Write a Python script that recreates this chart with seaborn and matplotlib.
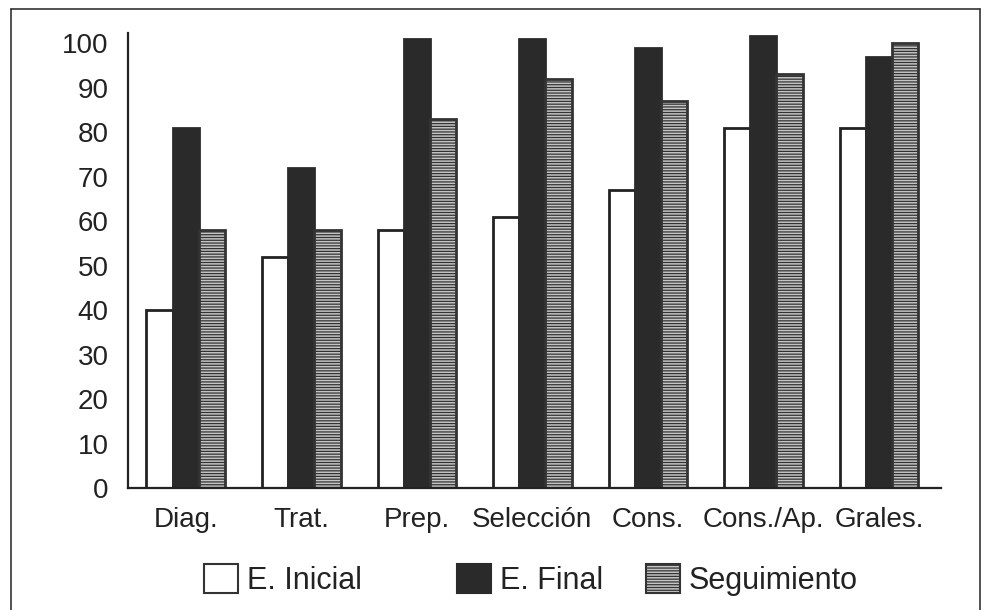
import numpy as np
import pandas as pd
import matplotlib
matplotlib.use("Agg")
import matplotlib.pyplot as plt
from matplotlib.lines import Line2D
from matplotlib.patches import Patch
import seaborn as sns

# ========== datos ==========
categorias = ["Diag.", "Trat.", "Prep.", "Selección", "Cons.", "Cons./Ap.", "Grales."]
series = ["E. Inicial", "E. Final", "Seguimiento"]
e_inicial = [40, 52, 58, 61, 67, 81, 81]
e_final = [81, 72, 101, 101, 99, 101.5, 97]
seguimiento = [58, 58, 83, 92, 87, 93, 100]
y_ticks = list(range(0, 101, 10))

df = pd.DataFrame({
    "cat": categorias * 3,
    "serie": [series[0]] * 7 + [series[1]] * 7 + [series[2]] * 7,
    "valor": e_inicial + e_final + seguimiento,
})

# ========== estilo ==========
sns.set_style("white")
plt.rcParams["font.family"] = ["Liberation Sans", "DejaVu Sans"]
plt.rcParams["hatch.linewidth"] = 0.9

colores = {"E. Inicial": "#ffffff", "E. Final": "#2a2a2a", "Seguimiento": "#c4c4c4"}

fig = plt.figure(figsize=(9.87, 6.10), dpi=100)
ax = fig.add_axes([0.1297, 0.2, 0.824, 0.746])

sns.barplot(data=df, x="cat", y="valor", hue="serie", palette=colores,
            width=0.68, gap=0, edgecolor="#222222", linewidth=2,
            legend=False, ax=ax)

# rayado horizontal para "Seguimiento"
for bar in ax.containers[2]:
    bar.set_hatch("------")
    bar.set_edgecolor("#333333")
for bar in ax.containers[1]:
    bar.set_edgecolor("#2a2a2a")

ax.set_xlim(-0.5, 6.54)
ax.set_ylim(0, 102.3)
ax.set_yticks(y_ticks)
ax.set_xlabel("")
ax.set_ylabel("")
ax.tick_params(axis="both", length=0, labelsize=20, colors="#222222")
ax.tick_params(axis="y", pad=14)
ax.tick_params(axis="x", pad=14)
sns.despine(ax=ax, top=True, right=True)
for s in ["left", "bottom"]:
    ax.spines[s].set_linewidth(1.6)
    ax.spines[s].set_color("#222222")

# leyenda: una entrada por serie, colocadas como en el original
handles = [
    Patch(facecolor=colores["E. Inicial"], edgecolor="#333333", linewidth=1.5, label="E. Inicial"),
    Patch(facecolor=colores["E. Final"], edgecolor="#2a2a2a", linewidth=1.5, label="E. Final"),
    Patch(facecolor=colores["Seguimiento"], edgecolor="#333333", linewidth=1.5,
          hatch="------", label="Seguimiento"),
]
x_leyenda = [204 / 987, 457 / 987, 646 / 987]
for h, xl in zip(handles, x_leyenda):
    leg = fig.legend(handles=[h], loc="center left", bbox_to_anchor=(xl, 0.049),
                     frameon=False, fontsize=22, handlelength=1.1, handleheight=1.1,
                     handletextpad=0.3, borderpad=0, borderaxespad=0,
                     labelcolor="#222222")

# marco de la figura
for xs, ys in [([0.011, 0.011], [0.0, 0.985]),
               ([0.011, 0.993], [0.985, 0.985]),
               ([0.993, 0.993], [0.0, 0.985])]:
    fig.add_artist(Line2D(xs, ys, transform=fig.transFigure, color="#333333", lw=1.2))

fig.savefig("out.png", dpi=100, facecolor="white")
